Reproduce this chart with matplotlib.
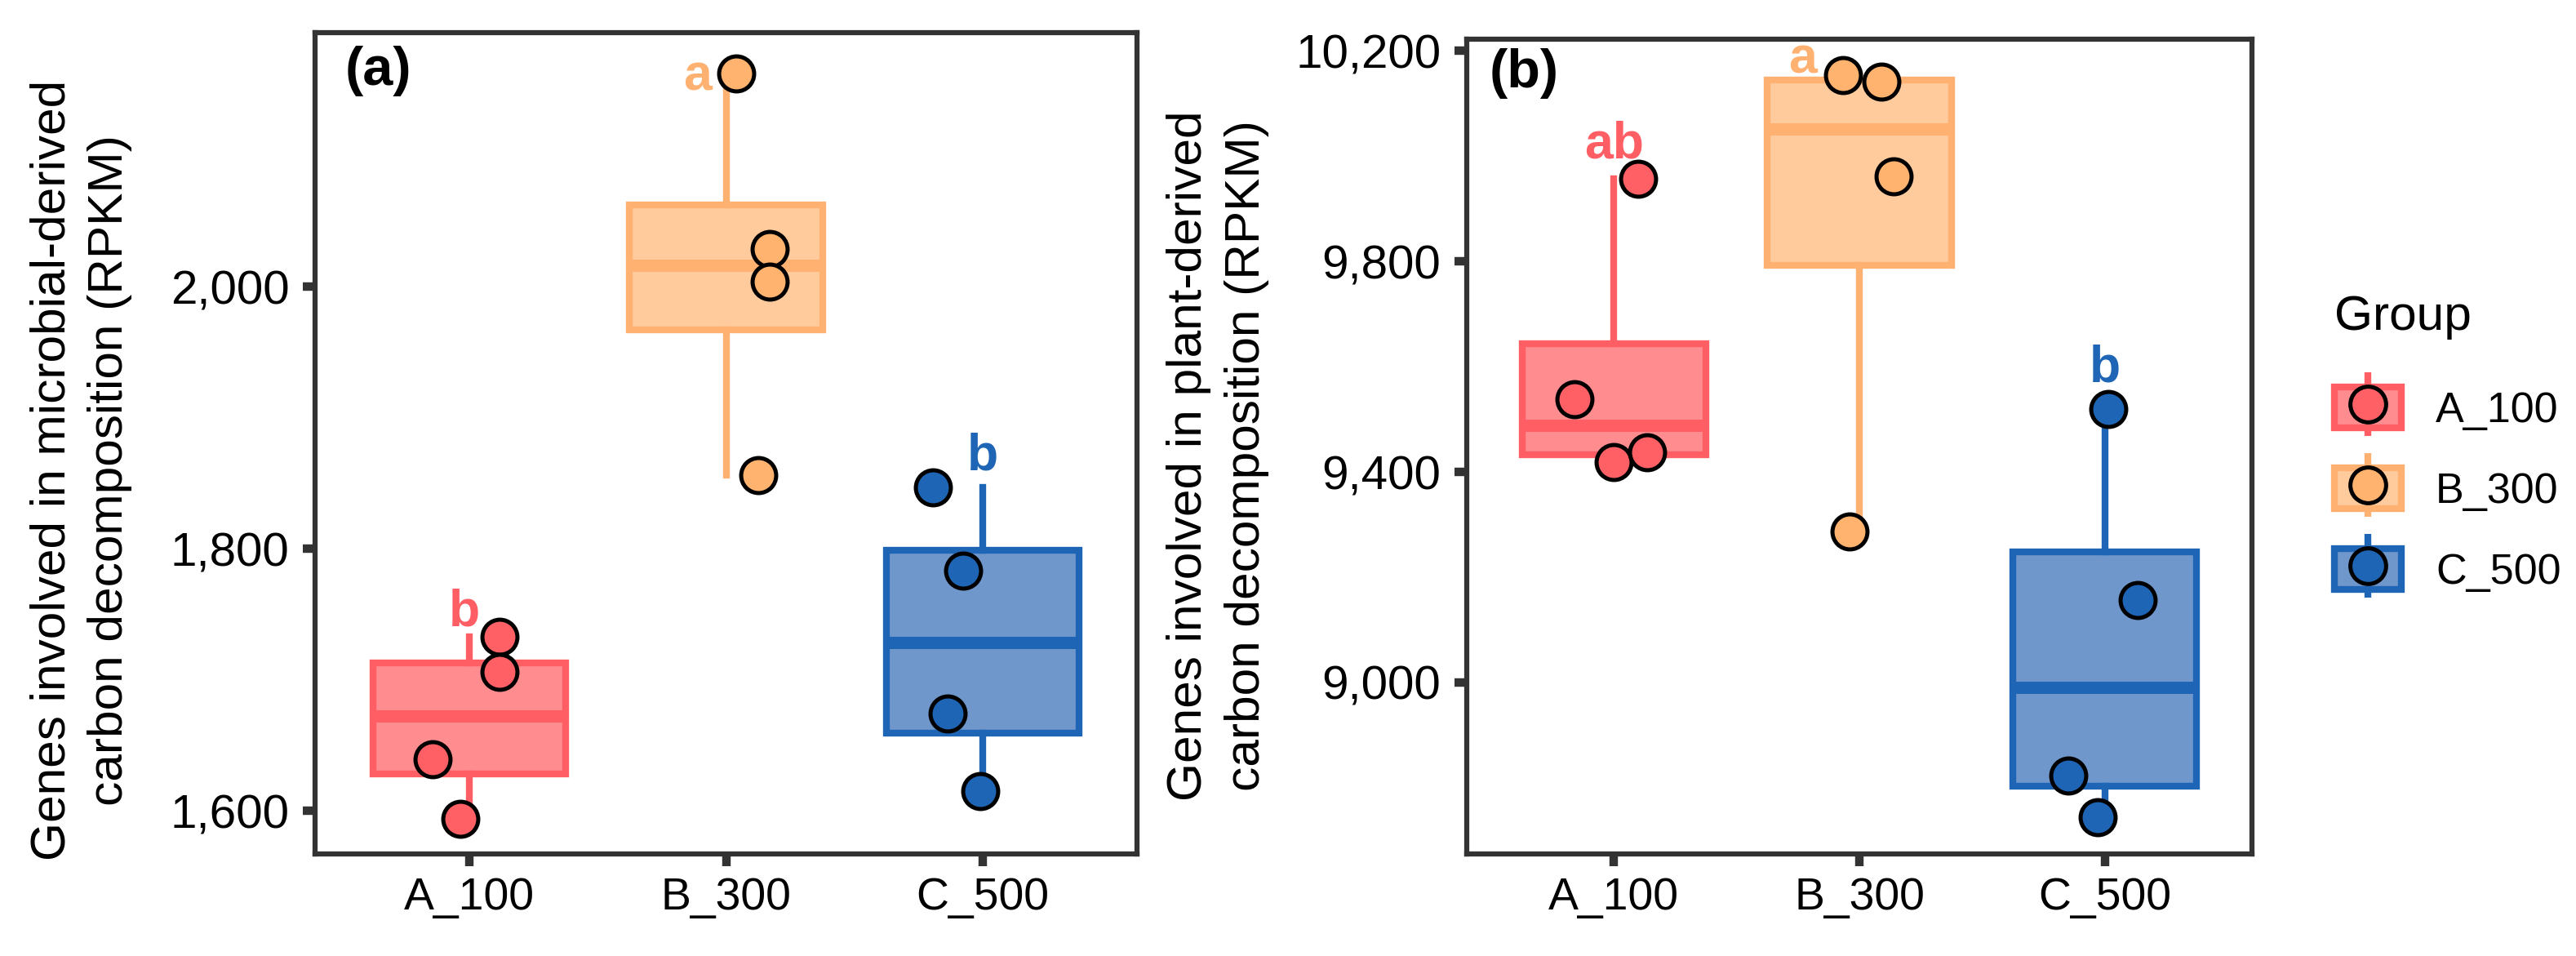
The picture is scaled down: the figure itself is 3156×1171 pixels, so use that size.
import numpy as np
import matplotlib.pyplot as plt
from matplotlib.patches import Patch
from matplotlib.lines import Line2D
from matplotlib.legend_handler import HandlerTuple
from matplotlib.ticker import FuncFormatter

plt.rcParams["font.family"] = ["Liberation Sans", "DejaVu Sans"]

# ----------------------------
# Data (RPKM)
# ----------------------------
groups = ["A_100", "B_300", "C_500"]

micro_a100 = [1733, 1706, 1639, 1594]
micro_b300 = [2163, 2029, 2004, 1856]
micro_c500 = [1847, 1783, 1674, 1615]

plant_a100 = [9957, 9538, 9419, 9437]
plant_b300 = [10153, 10141, 9961, 9287]
plant_c500 = [9519, 9157, 8823, 8743]

micro_letters = ["b", "a", "b"]
plant_letters = ["ab", "a", "b"]

# ----------------------------
# Styling / layout
# ----------------------------
EDGE = ["#FF5F64", "#FFB172", "#1F65B5"]
FILL = ["#FF8C8F", "#FFCB9D", "#6F97CB"]
POINT = ["#FF6066", "#FFB36F", "#1F65B5"]
SPINE = "#333333"

# horizontal jitter of the points (category units)
micro_jitter = [[0.117, 0.117, -0.142, -0.035],
                [0.04, 0.17, 0.17, 0.127],
                [-0.196, -0.076, -0.136, -0.01]]
plant_jitter = [[0.10, -0.16, 0.0, 0.135],
                [-0.066, 0.09, 0.14, -0.04],
                [0.013, 0.135, -0.15, -0.03]]

# significance letter placement (baseline y, x shift)
micro_letter_y = [1741, 2150, 1860]
micro_letter_dx = [-0.02, -0.11, 0.0]
plant_letter_y = [9997, 10157, 9571]
plant_letter_dx = [0.0, -0.23, 0.0]

W, H = 3156, 1171
fig = plt.figure(figsize=(W / 300, 1171.2 / 300), dpi=300)

ax_a = fig.add_axes([386 / W, 1 - 1046 / H, (1393 - 386) / W, (1046 - 40) / H])
ax_b = fig.add_axes([1797 / W, 1 - 1046 / H, (2759 - 1797) / W, (1046 - 48) / H])


def draw_panel(ax, values, jitter, letters, letter_y, letter_dx):
    pos = np.arange(1, len(values) + 1)
    bp = ax.boxplot(values, positions=pos, widths=0.75, patch_artist=True,
                    showcaps=False, showfliers=False, whis=1.5, zorder=2)
    for i in range(len(values)):
        bp["boxes"][i].set(facecolor=FILL[i], edgecolor=EDGE[i], linewidth=2)
        bp["medians"][i].set(color=EDGE[i], linewidth=3.6, solid_capstyle="butt")
        for w in bp["whiskers"][2 * i:2 * i + 2]:
            w.set(color=EDGE[i], linewidth=2)
        ax.scatter(pos[i] + np.array(jitter[i]), values[i], s=106, c=POINT[i],
                   edgecolors="black", linewidths=1.2, zorder=3)
        ax.text(pos[i] + letter_dx[i], letter_y[i], letters[i], color=EDGE[i],
                fontsize=15, fontweight="bold", ha="center", va="baseline")

    ax.set_xlim(0.4, 3.6)
    ax.set_xticks(pos)
    ax.set_xticklabels(groups)
    ax.yaxis.set_major_formatter(FuncFormatter(lambda v, p: f"{int(v):,}"))
    for s in ax.spines.values():
        s.set_color(SPINE)
        s.set_linewidth(1.5)
    ax.tick_params(axis="both", colors=SPINE, width=2.5, length=3.6,
                   labelcolor="black")
    ax.tick_params(axis="y", labelsize=14, pad=4)
    ax.tick_params(axis="x", labelsize=13.3, pad=3)


draw_panel(ax_a, [micro_a100, micro_b300, micro_c500], micro_jitter,
           micro_letters, micro_letter_y, micro_letter_dx)
ax_a.set_ylim(1567, 2194)
ax_a.set_yticks([1600, 1800, 2000])
ax_a.text(0.036, 0.953, "(a)", transform=ax_a.transAxes, fontsize=16,
          fontweight="bold", ha="left", va="center")

draw_panel(ax_b, [plant_a100, plant_b300, plant_c500], plant_jitter,
           plant_letters, plant_letter_y, plant_letter_dx)
ax_b.set_ylim(8674, 10222)
ax_b.set_yticks([9000, 9400, 9800, 10200])
ax_b.text(0.029, 0.958, "(b)", transform=ax_b.transAxes, fontsize=16,
          fontweight="bold", ha="left", va="center")

fig.text(99 / W, 1 - 576 / H,
         "Genes involved in microbial-derived\ncarbon decomposition (RPKM)",
         rotation=90, ha="center", va="center", fontsize=14.5, linespacing=1.35)
fig.text(1492 / W, 1 - 558 / H,
         "Genes involved in plant-derived\ncarbon decomposition (RPKM)",
         rotation=90, ha="center", va="center", fontsize=14.5, linespacing=1.35)

# ----------------------------
# Legend
# ----------------------------
handles = []
for i in range(3):
    whisker = Line2D([], [], color=EDGE[i], marker="|", markersize=18.7,
                     markeredgewidth=2, linestyle="None")
    box = Patch(facecolor=FILL[i], edgecolor=EDGE[i], linewidth=2)
    dot = Line2D([], [], color=POINT[i], marker="o", markersize=10.5,
                 markeredgecolor="black", markeredgewidth=1.2, linestyle="None")
    handles.append((whisker, box, dot))

leg = fig.legend(handles, groups, title="Group", loc="upper left",
                 bbox_to_anchor=(2860 / W, 1 - 361 / H), frameon=False,
                 handler_map={tuple: HandlerTuple(ndivide=1)},
                 fontsize=12.5, title_fontsize=14.5, alignment="left",
                 handlelength=1.58, handleheight=1.1, labelspacing=0.87,
                 handletextpad=0.8, borderpad=0, borderaxespad=0)
leg._legend_box.sep = 0.87 * 12.5 + 3.1  # a bit more room under the title

fig.savefig("out.png", dpi=300, facecolor="white")
